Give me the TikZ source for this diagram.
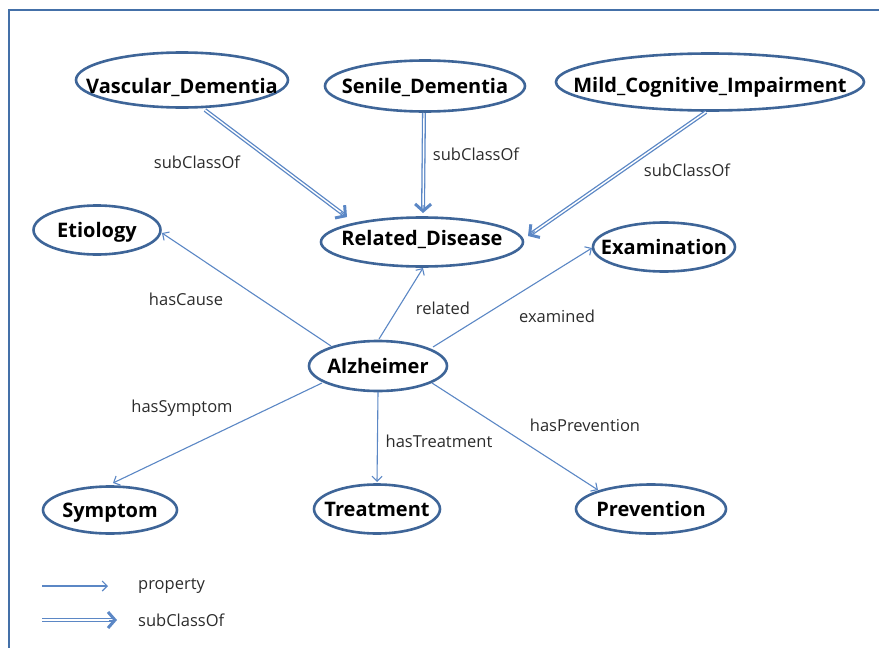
\documentclass[tikz,border=0pt]{standalone}
\usepackage{fontspec}
\setmainfont{Open Sans}
\usetikzlibrary{arrows.meta,shapes.geometric,calc}
\definecolor{ebord}{HTML}{3E6598}
\definecolor{eline}{HTML}{5B87C5}
\definecolor{framec}{HTML}{4470A8}
\definecolor{ltxt}{HTML}{2B2B2B}
\newcommand{\nt}[2][0pt]{\makebox[0pt]{\raisebox{\dimexpr-7.2pt-#1\relax}[0pt][0pt]{#2}}}
\begin{document}
\begin{tikzpicture}[x=1pt,y=-1pt,
 cls/.style={ellipse, draw=ebord, line width=2.6pt, inner sep=0pt, fill=white,
   font=\bfseries\fontsize{20}{21}\selectfont},
 lbl/.style={font=\fontsize{16.5}{18}\selectfont, text=ltxt, inner sep=0pt},
 prop/.style={draw=eline, line width=1.1pt, -{Straight Barb[length=5pt,width=10pt]}},
 subc/.style={draw=eline, double=white, double distance=1.4pt, line width=1.3pt, shorten >=2pt},
 subtip/.style={draw=eline, line width=1pt, -{Straight Barb[length=7pt,width=16pt,line width=3pt]}}]
\useasboundingbox (0,0) rectangle (879,648);
\coordinate (fa) at (9,648);
\coordinate (fb) at (9,10);
\coordinate (fc) at (879,10);
\draw[framec, line width=1.5pt] (fa) -- (fb) -- (fc);

% classes
\node[cls, minimum width=212pt, minimum height=55pt] (vasc) at (182,80) {\nt[6pt]{Vascular\_Dementia}};
\node[cls, minimum width=200pt, minimum height=51pt] (sen) at (425,86) {\nt{Senile\_Dementia}};
\node[cls, minimum width=308pt, minimum height=57pt] (mci) at (710,82) {\nt[3pt]{Mild\_Cognitive\_Impairment}};
\node[cls, minimum width=202pt, minimum height=49pt] (rel) at (422,242) {\nt[-4pt]{Related\_Disease}};
\node[cls, minimum width=127pt, minimum height=49pt] (etio) at (97,230) {\nt{Etiology}};
\node[cls, minimum width=142pt, minimum height=49pt] (exam) at (664,247) {\nt{Examination}};
\node[cls, minimum width=138pt, minimum height=50pt] (alz) at (378,366) {\nt{Alzheimer}};
\node[cls, minimum width=134pt, minimum height=47pt] (symp) at (110,510) {\nt{Symptom}};
\node[cls, minimum width=126pt, minimum height=49pt] (treat) at (377,509) {\nt{Treatment}};
\node[cls, minimum width=150pt, minimum height=49pt] (prev) at (651,509) {\nt{Prevention}};

% subClassOf edges
\coordinate (s1a) at ([shift={(23,30)}]vasc.center);
\coordinate (s1b) at ([shift={(-75,-25)}]rel.center);
\coordinate (s2a) at ([shift={(-1,27)}]sen.center);
\coordinate (s2b) at ([shift={(1,-29)}]rel.center);
\coordinate (s3a) at ([shift={(-4,30)}]mci.center);
\coordinate (s3b) at ([shift={(106,-6)}]rel.center);
\draw[subc] (s1a) -- (s1b);
\draw[subtip] ($(s1b)!8pt!(s1a)$) -- (s1b);
\draw[subc] (s2a) -- (s2b);
\draw[subtip] ($(s2b)!8pt!(s2a)$) -- (s2b);
\draw[subc] (s3a) -- (s3b);
\draw[subtip] ($(s3b)!8pt!(s3a)$) -- (s3b);

% property edges
\draw[prop] ([shift={(-47,-20)}]alz.center) -- ([shift={(65,3)}]etio.center);
\draw[prop] ([shift={(1,-27)}]alz.center) -- ([shift={(1,26)}]rel.center);
\draw[prop] ([shift={(55,-19)}]alz.center) -- ([shift={(-72,1)}]exam.center);
\draw[prop] ([shift={(-56,17)}]alz.center) -- ([shift={(3,-27)}]symp.center);
\draw[prop] ([shift={(0,26)}]alz.center) -- ([shift={(0,-27)}]treat.center);
\draw[prop] ([shift={(54,17)}]alz.center) -- ([shift={(-53,-19)}]prev.center);

% labels
\node[lbl] (l1) at (197,162) {subClassOf};
\node[lbl] (l2) at (476,154) {subClassOf};
\node[lbl] (l3) at (687,170) {subClassOf};
\node[lbl] (l4) at (186,299) {hasCause};
\node[lbl] (l5) at (443,308) {related};
\node[lbl] (l6) at (557,316) {examined};
\node[lbl] (l7) at (182,408) {hasSymptom};
\node[lbl] (l8) at (439,441) {hasTreatment};
\node[lbl] (l9) at (585,425) {hasPrevention};

% legend
\coordinate (pa) at (42,586);
\coordinate (pb) at (108,586);
\coordinate (sa) at (42,620);
\coordinate (sb) at (117,620);
\draw[prop] (pa) -- (pb);
\draw[subc] (sa) -- (sb);
\draw[subtip] ($(sb)!8pt!(sa)$) -- (sb);
\node[lbl, anchor=west] (lp) at (138,586) {property};
\node[lbl, anchor=west] (ls) at (138,620) {subClassOf};
\end{tikzpicture}
\end{document}
